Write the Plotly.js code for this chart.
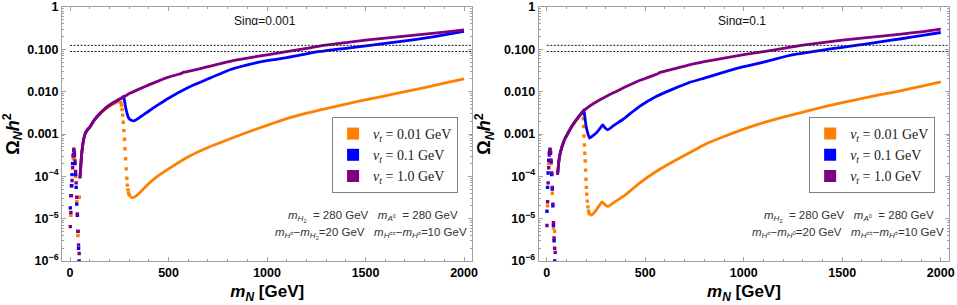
<!DOCTYPE html>
<html><head><meta charset="utf-8">
<script src="https://cdn.plot.ly/plotly-3.0.1.min.js"></script>
<style>html,body{margin:0;padding:0;background:#fff}#chart{width:957px;height:305px}</style>
</head><body><div id="chart"></div>
<script>
// ---------------- data ----------------
const panelTitles = ['Sinα=0.001', 'Sinα=0.1'];
const seriesNames = [
  '<i>ν</i><sub><i>t</i></sub> = 0.01 GeV',
  '<i>ν</i><sub><i>t</i></sub> = 0.1 GeV',
  '<i>ν</i><sub><i>t</i></sub> = 1.0 GeV'
];
const seriesColors = ['#ff8000', '#0000ff', '#800080'];
const relicBand = [0.089, 0.124];
const xTickVals = [0, 500, 1000, 1500, 2000];
const xTickText = ['0', '500', '1000', '1500', '2000'];
const yTickVals = [1e-6, 1e-5, 1e-4, 1e-3, 1e-2, 1e-1, 1];
const yTickText = ['10<sup>−6</sup>', '10<sup>−5</sup>', '10<sup>−4</sup>', '0.001', '0.010', '0.100', '1'];
const noteLine1 = [
  '<i>m</i><sub><i>H</i><sub>2</sub></sub>\u00a0 = 280 GeV\u00a0\u00a0 <i>m</i><sub><i>A</i><sup>0</sup></sub>\u00a0 = 280 GeV',
  '<i>m</i><sub><i>H</i><sub>2</sub></sub>\u00a0 = 280 GeV\u00a0\u00a0 <i>m</i><sub><i>A</i><sup>0</sup></sub>\u00a0 = 280 GeV'
];
const noteLine2 = [
  '<i>m</i><sub><i>H</i><sup>±</sup></sub>−<i>m</i><sub><i>H</i><sub>2</sub></sub>=20 GeV\u00a0\u00a0 <i>m</i><sub><i>H</i><sup>±±</sup></sub>−<i>m</i><sub><i>H</i><sup>±</sup></sub>=10 GeV',
  '<i>m</i><sub><i>H</i><sup>±</sup></sub>−<i>m</i><sub><i>H</i><sup>0</sup></sub>=20 GeV\u00a0\u00a0 <i>m</i><sub><i>H</i><sup>±±</sup></sub>−<i>m</i><sub><i>H</i><sup>±</sup></sub>=10 GeV'
];

// Left panel (sin alpha = 0.001)
const L_org_line_m  = [50, 53, 56, 60, 65, 70, 76, 85, 100, 125, 150, 175, 200, 230, 255, 280, 305, 315, 325, 340, 370, 400, 450, 500, 600, 700, 800, 900, 1000, 1100, 1200, 1300, 1400, 1500, 1600, 1700, 1800, 1900, 2000];
const L_org_line_om = [9e-5, 1.4e-4, 2.3e-4, 3.8e-4, 5.8e-4, 7.8e-4, 1.0e-3, 1.2e-3, 1.45e-3, 2.2e-3, 2.9e-3, 3.7e-3, 4.5e-3, 5.4e-3, 6.0e-3, null, 3.3e-5, 3.15e-5, 3.2e-5, 3.6e-5, 4.9e-5, 6.8e-5, 1.05e-4, 1.5e-4, 2.9e-4, 4.8e-4, 7.3e-4, 1.1e-3, 1.6e-3, 2.3e-3, 3.1e-3, 4.0e-3, 5.1e-3, 6.4e-3, 8.0e-3, 1.0e-2, 1.25e-2, 1.6e-2, 2.0e-2];
const L_org_dot_m   = [4, 10, 16, 19, 22, 28, 34, 40, 47, 258, 261, 264, 267, 270, 273, 276, 279, 282, 285, 288, 291, 294, 297, 301];
const L_org_dot_om  = [1.2e-5, 6e-5, 2.6e-4, 3.2e-4, 2.8e-4, 1.0e-4, 2.5e-5, 4e-6, 3.2e-5, 5.6e-3, 4.8e-3, 3.8e-3, 2.8e-3, 1.9e-3, 1.2e-3, 7.5e-4, 4.5e-4, 2.6e-4, 1.5e-4, 9e-5, 6.2e-5, 4.8e-5, 4.0e-5, 3.6e-5];

const L_blu_line_m  = [50, 53, 56, 60, 65, 70, 76, 85, 100, 125, 150, 175, 200, 250, 265, 271, 276, 280, 285, 290, 297, 305, 315, 325, 350, 400, 450, 500, 600, 700, 812, 900, 1000, 1100, 1133, 1200, 1269, 1300, 1400, 1523, 1600, 1700, 1800, 1900, 2000];
const L_blu_line_om = [9e-5, 1.4e-4, 2.3e-4, 3.8e-4, 5.8e-4, 7.8e-4, 1.0e-3, 1.2e-3, 1.45e-3, 2.2e-3, 3.0e-3, 3.9e-3, 4.8e-3, 6.6e-3, 7.2e-3, 7.7e-3, 6.3e-3, 4.8e-3, 3.7e-3, 3.0e-3, 2.4e-3, 2.2e-3, 2.08e-3, 2.05e-3, 2.4e-3, 3.5e-3, 5.0e-3, 7.0e-3, 1.25e-2, 2.0e-2, 3.3e-2, 4.3e-2, 5.4e-2, 6.4e-2, 6.8e-2, 7.8e-2, 8.9e-2, 9.3e-2, 0.106, 0.124, 0.138, 0.158, 0.183, 0.22, 0.265];
const L_blu_dot_m   = [1, 4, 7, 10, 13, 16, 19, 22, 25, 28, 31, 34, 37, 40, 43, 46];
const L_blu_dot_om  = [1.8e-5, 3.5e-5, 6e-5, 1.1e-4, 2.0e-4, 3.2e-4, 4.0e-4, 3.2e-4, 2.0e-4, 1.1e-4, 5.5e-5, 2.2e-5, 1.2e-5, 5e-6, 2e-6, 1e-6];

const L_pur_line_m  = [50, 53, 56, 60, 65, 70, 76, 85, 100, 125, 150, 175, 200, 250, 280, 300, 350, 400, 450, 500, 560, 575, 600, 700, 812, 900, 1000, 1107, 1200, 1285, 1400, 1500, 1600, 1700, 1800, 1900, 2000];
const L_pur_line_om = [9e-5, 1.4e-4, 2.3e-4, 3.8e-4, 5.8e-4, 7.8e-4, 1.0e-3, 1.2e-3, 1.45e-3, 2.2e-3, 3.0e-3, 3.9e-3, 4.8e-3, 6.6e-3, 7.9e-3, 9.0e-3, 1.15e-2, 1.45e-2, 1.8e-2, 2.2e-2, 2.65e-2, 2.85e-2, 3.0e-2, 3.9e-2, 5.2e-2, 6.2e-2, 7.4e-2, 8.9e-2, 0.105, 0.124, 0.145, 0.165, 0.185, 0.205, 0.228, 0.255, 0.29];
const L_pur_dot_m   = [1, 4, 7, 10, 13, 16, 19, 22, 25, 28, 31, 34, 37, 40, 43, 46];
const L_pur_dot_om  = [6.5e-6, 1.4e-5, 3.5e-5, 8e-5, 1.6e-4, 3.0e-4, 4.4e-4, 3.6e-4, 2.3e-4, 1.3e-4, 7e-5, 3.2e-5, 1.3e-5, 5e-6, 2.4e-6, 1.5e-6];

// Right panel (sin alpha = 0.1)
const R_org_line_m  = [55, 60, 65, 73, 80, 90, 110, 132, 160, 180, 200, 220, 230, 251, 268, 281, 295, 310, 340, 386, 430, 471, 555, 640, 724, 800, 900, 1000, 1100, 1200, 1300, 1400, 1500, 1600, 1700, 1800, 1900, 2000];
const R_org_line_om = [1.1e-4, 2e-4, 3e-4, 4.3e-4, 5.5e-4, 7.3e-4, 1.1e-3, 1.6e-3, 2.4e-3, 3.1e-3, null, 1.2e-5, 1.25e-5, 1.6e-5, 2.1e-5, 2.5e-5, 2.15e-5, 1.94e-5, 2.4e-5, 3.3e-5, 4.8e-5, 6.9e-5, 1.3e-4, 2.2e-4, 3.6e-4, 5.6e-4, 8.7e-4, 1.3e-3, 1.85e-3, 2.5e-3, 3.3e-3, 4.3e-3, 5.5e-3, 6.9e-3, 8.6e-3, 1.06e-2, 1.34e-2, 1.7e-2];
const R_org_dot_m   = [4, 10, 16, 22, 28, 34, 40, 183, 185, 187, 189, 191, 193, 195, 197, 199, 201, 203, 206, 209, 212, 216];
const R_org_dot_om  = [2e-5, 2e-4, 3.5e-4, 2e-4, 4e-5, 6e-6, 5e-6, 3.0e-3, 2.3e-3, 1.5e-3, 9e-4, 5.5e-4, 3.5e-4, 2.3e-4, 1.4e-4, 8.5e-5, 5.5e-5, 3.8e-5, 2.6e-5, 1.9e-5, 1.5e-5, 1.3e-5];

const R_blu_line_m  = [55, 60, 65, 73, 80, 90, 110, 132, 160, 183, 188, 194, 200, 208, 217, 230, 251, 270, 284, 295, 310, 340, 386, 430, 471, 555, 640, 724, 800, 900, 1000, 1100, 1200, 1266, 1300, 1400, 1500, 1570, 1600, 1700, 1800, 1900, 2000];
const R_blu_line_om = [1.1e-4, 2e-4, 3e-4, 4.3e-4, 5.5e-4, 7.3e-4, 1.1e-3, 1.65e-3, 2.5e-3, 3.4e-3, 3.7e-3, 2.4e-3, 1.5e-3, 1.05e-3, 8e-4, 8.8e-4, 1.05e-3, 1.35e-3, 1.65e-3, 1.4e-3, 1.26e-3, 1.6e-3, 2.2e-3, 3.2e-3, 4.5e-3, 7.7e-3, 1.15e-2, 1.65e-2, 2.1e-2, 2.9e-2, 3.9e-2, 5.0e-2, 6.6e-2, 7.7e-2, 8.1e-2, 9.6e-2, 0.112, 0.124, 0.13, 0.152, 0.178, 0.21, 0.25];
const R_blu_dot_m   = [1, 4, 7, 10, 13, 16, 19, 22, 25, 28, 31, 34, 37, 40];
const R_blu_dot_om  = [1.5e-5, 5.5e-5, 1.2e-4, 2.4e-4, 3.6e-4, 4.2e-4, 3.5e-4, 2.2e-4, 1.1e-4, 5e-5, 2e-5, 7e-6, 3e-6, 1.0e-6];

const R_pur_line_m  = [55, 60, 65, 73, 80, 90, 110, 132, 160, 183, 200, 250, 301, 350, 400, 471, 500, 560, 575, 650, 724, 800, 900, 1000, 1100, 1200, 1300, 1400, 1500, 1600, 1700, 1800, 1900, 2000];
const R_pur_line_om = [1.1e-4, 2e-4, 3e-4, 4.3e-4, 5.5e-4, 7.3e-4, 1.1e-3, 1.65e-3, 2.5e-3, 3.4e-3, 4.0e-3, 5.7e-3, 7.7e-3, 1.0e-2, 1.3e-2, 1.84e-2, 2.05e-2, 2.6e-2, 2.85e-2, 3.5e-2, 4.3e-2, 5.1e-2, 6.2e-2, 7.5e-2, 8.8e-2, 0.105, 0.126, 0.145, 0.165, 0.185, 0.206, 0.23, 0.26, 0.30];
const R_pur_dot_m   = [1, 4, 7, 10, 13, 16, 19, 22, 25, 28, 31, 34, 37, 40, 43];
const R_pur_dot_om  = [6.9e-6, 2.5e-5, 7e-5, 1.6e-4, 3.2e-4, 4.4e-4, 3.8e-4, 2.4e-4, 1.2e-4, 5.5e-5, 2.2e-5, 8e-6, 3.5e-6, 2e-6, 1.6e-6];

// ---------------- build ----------------
const panels = [
  {xa: 'x', ya: 'y', legend: 'legend', series: [
    [L_org_line_m, L_org_line_om, L_org_dot_m, L_org_dot_om],
    [L_blu_line_m, L_blu_line_om, L_blu_dot_m, L_blu_dot_om],
    [L_pur_line_m, L_pur_line_om, L_pur_dot_m, L_pur_dot_om]]},
  {xa: 'x2', ya: 'y2', legend: 'legend2', series: [
    [R_org_line_m, R_org_line_om, R_org_dot_m, R_org_dot_om],
    [R_blu_line_m, R_blu_line_om, R_blu_dot_m, R_blu_dot_om],
    [R_pur_line_m, R_pur_line_om, R_pur_dot_m, R_pur_dot_om]]}
];

const traces = [];
panels.forEach((p, pi) => {
  p.series.forEach((s, si) => {
    const grp = 'p' + pi + 's' + si;
    traces.push({
      type: 'scatter', mode: 'lines', x: s[0], y: s[1], xaxis: p.xa, yaxis: p.ya,
      line: {color: seriesColors[si], width: 2.8, shape: 'spline', smoothing: 0.5},
      connectgaps: false, showlegend: false, legendgroup: grp, legend: p.legend, hoverinfo: 'skip'
    });
    traces.push({
      type: 'scatter', mode: 'markers', x: s[2], y: s[3], xaxis: p.xa, yaxis: p.ya,
      marker: {color: seriesColors[si], size: 3.4, symbol: 'square'},
      name: seriesNames[si], legendgroup: grp, legend: p.legend, showlegend: true
    });
  });
});

const yMinor = [];
for (let d = -6; d < 0; d++) for (let k = 2; k <= 9; k++) yMinor.push(k * Math.pow(10, d));

const frameColor = '#a0a0a0';
const tickFont = {family: 'Liberation Sans, Arial, sans-serif', size: 12.5, color: '#000', weight: 'bold'};
function xAxis(domain, anchor) {
  return {
    domain: domain, anchor: anchor, range: [-41, 2043], tickmode: 'array',
    tickvals: xTickVals, ticktext: xTickText, tickfont: tickFont,
    ticks: 'inside', ticklen: 4, tickcolor: frameColor, tickwidth: 1,
    minor: {dtick: 100, ticks: 'inside', ticklen: 2, tickcolor: frameColor},
    showline: true, linecolor: frameColor, linewidth: 1, mirror: 'allticks',
    showgrid: false, zeroline: false,
    title: {text: '<b><i>m</i><sub><i>N</i></sub> [GeV]</b>', font: {family: 'Liberation Sans, Arial, sans-serif', size: 17, color: '#000'}, standoff: 6}
  };
}
function yAxis(anchor) {
  return {
    domain: [0.1443, 0.977], anchor: anchor, type: 'log', range: [-6, 0], tickmode: 'array',
    tickvals: yTickVals, ticktext: yTickText, tickfont: tickFont,
    ticks: 'inside', ticklen: 4, tickcolor: frameColor, tickwidth: 1,
    minor: {tickmode: 'array', tickvals: yMinor, ticks: 'inside', ticklen: 2, tickcolor: frameColor},
    showline: true, linecolor: frameColor, linewidth: 1, mirror: 'allticks',
    showgrid: false, zeroline: false,
    title: {text: '<b>Ω<sub><i>N</i></sub><i>h</i><sup>2</sup></b>', font: {family: 'Liberation Sans, Arial, sans-serif', size: 18, color: '#000'}, standoff: 8}
  };
}

const shapes = [];
[['x', 'y'], ['x2', 'y2']].forEach(ax => {
  relicBand.forEach(v => shapes.push({
    type: 'line', xref: ax[0], yref: ax[1], x0: 0, x1: 2035, y0: v, y1: v,
    line: {color: '#222', width: 1, dash: '2px,1.5px'}
  }));
});

const noteFont = {family: 'Liberation Sans, Arial, sans-serif', size: 11.5, color: '#333'};
const titleFont = {family: 'Liberation Sans, Arial, sans-serif', size: 12, color: '#111'};
const annotations = [];
const panelCenters = [0.2769, 0.775];
const noteCenters = [[0.3894, 0.3874], [0.8875, 0.8858]];
[0, 1].forEach(i => {
  annotations.push({xref: 'paper', yref: 'paper', x: panelCenters[i], y: 0.932, text: panelTitles[i], showarrow: false, font: titleFont, xanchor: 'center', yanchor: 'middle'});
  annotations.push({xref: 'paper', yref: 'paper', x: noteCenters[i][0], y: 0.2918, text: noteLine1[i], showarrow: false, font: noteFont, xanchor: 'center', yanchor: 'middle'});
  annotations.push({xref: 'paper', yref: 'paper', x: noteCenters[i][1], y: 0.235, text: noteLine2[i], showarrow: false, font: noteFont, xanchor: 'center', yanchor: 'middle'});
});

const legendStyle = x => ({
  x: x, y: 0.6164, xanchor: 'left', yanchor: 'top', bgcolor: '#fff',
  bordercolor: '#808080', borderwidth: 1, itemsizing: 'constant', itemwidth: 30,
  font: {family: 'Liberation Serif, Times New Roman, serif', size: 14, color: '#222'},
  tracegroupgap: 0
});

const layout = {
  width: 957, height: 305, margin: {l: 0, r: 0, t: 0, b: 0},
  paper_bgcolor: '#fff', plot_bgcolor: '#fff', showlegend: true,
  xaxis: xAxis([0.06479, 0.49373], 'y'), yaxis: yAxis('x'),
  xaxis2: xAxis([0.5629, 0.9919], 'y2'), yaxis2: yAxis('x2'),
  legend: legendStyle(0.347), legend2: legendStyle(0.8455),
  shapes: shapes, annotations: annotations
};

Plotly.newPlot('chart', traces, layout, {displayModeBar: false, staticPlot: true});
</script></body></html>
